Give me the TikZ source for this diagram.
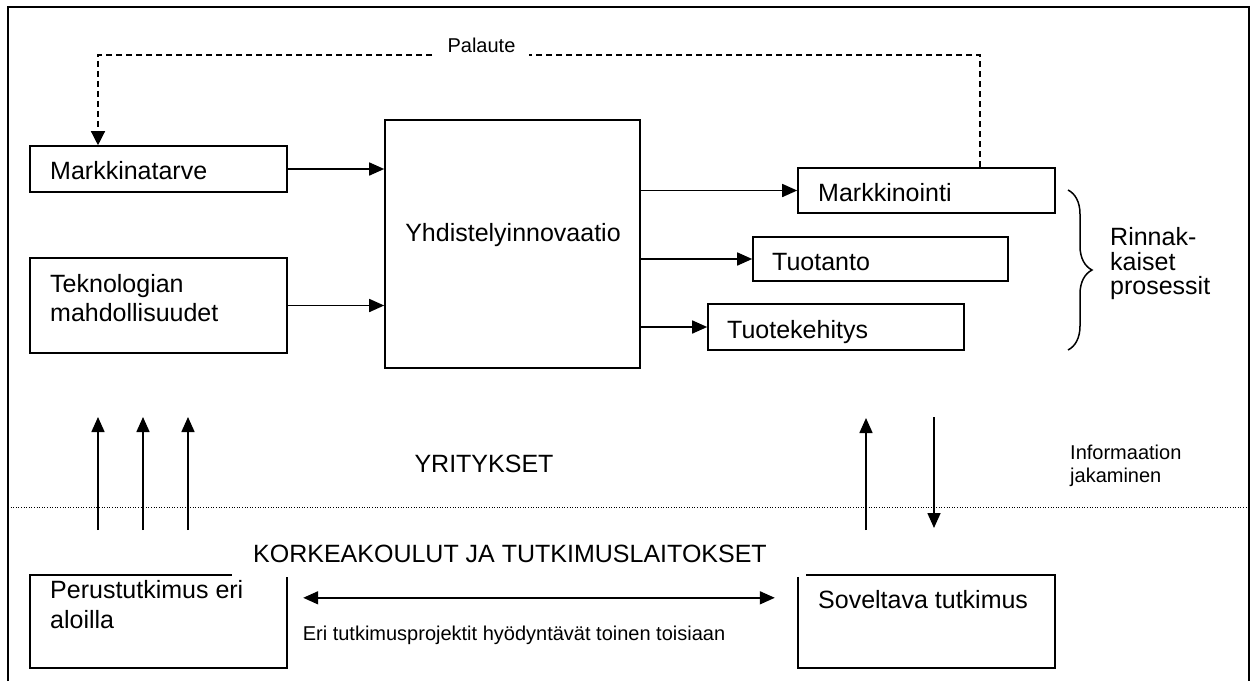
\documentclass[tikz,border=0pt]{standalone}
\usepackage{fontspec}
\setmainfont{Liberation Sans}
\usetikzlibrary{arrows.meta,decorations.pathreplacing,calc}

\begin{document}
\begin{tikzpicture}[x=1pt,y=-1pt,
  box/.style={draw, line width=1.6pt, inner sep=0pt},
  blank/.style={inner sep=0pt},
  big/.style={font=\fontsize{25}{29}\selectfont, inner sep=0pt},
  small/.style={font=\fontsize{20}{23}\selectfont, inner sep=0pt},
  tip/.tip={Triangle[length=15pt,width=13pt]},
  arr/.style={line width=1.6pt, -tip},
  darr/.style={line width=1.6pt, tip-tip},
  fb/.style={line width=1.3pt, dash pattern=on 6pt off 4pt},
  frame/.style={line width=2pt},
  sep/.style={line width=1pt, dash pattern=on 1pt off 1.6pt},
  edge/.style={line width=1.6pt}]

\useasboundingbox (0,0) rectangle (1256,681);

% outer frame (open at the bottom)
\draw[frame] (8,681) -- (8,7) -- (1249,7) -- (1249,681);

% companies: boxes
\node[box, minimum width=257pt, minimum height=46pt]  (mt) at (158.5,169) {};
\node[box, minimum width=257pt, minimum height=95pt]  (tk) at (158.5,305.5) {};
\node[box, minimum width=255pt, minimum height=248pt] (yh) at (512.5,244) {};
\node[box, minimum width=257pt, minimum height=45pt]  (mk) at (926.5,190.5) {};
\node[box, minimum width=255pt, minimum height=44pt]  (tu) at (880.5,259) {};
\node[box, minimum width=256pt, minimum height=46pt]  (te) at (836,327) {};

% companies: texts
\node[big, anchor=base west] (mtt) at (50,179) {Markkinatarve};
\node[big, anchor=base west] (tkt1) at (50,292) {Teknologian};
\node[big, anchor=base west] (tkt2) at (50,321) {mahdollisuudet};
\node[big, anchor=base] (yht) at (513,241) {Yhdistelyinnovaatio};
\node[big, anchor=base west] (mkt) at (818,201) {Markkinointi};
\node[big, anchor=base west] (tut) at (772,270) {Tuotanto};
\node[big, anchor=base west] (tet) at (727,338) {Tuotekehitys};

% parallel processes
\draw[line width=1.5pt, decorate, decoration={brace, amplitude=24pt}] (1068,190) -- (1068,350);
\node[big, anchor=base west] (rp1) at (1110,245) {Rinnak-};
\node[big, anchor=base west] (rp2) at (1110,270) {kaiset};
\node[big, anchor=base west] (rp3) at (1110,294) {prosessit};

% flows into and out of the combination box
\draw[arr] (mt.east) -- (mt.east -| yh.west);
\draw[arr] (tk.east) -- (tk.east -| yh.west);
\draw[arr] (mk.west -| yh.east) -- (mk.west);
\draw[arr] (tu.west -| yh.east) -- (tu.west);
\draw[arr] (te.west -| yh.east) -- (te.west);

% feedback loop
\coordinate (fbr) at (980,55);
\coordinate (fbl) at (98,55);
\draw[fb, -{Triangle[length=14pt,width=14pt]}] (mk.north -| fbr) -- (fbr) -- (fbl) -- (fbl |- mt.north);
\node[small, fill=white, inner xsep=14pt, inner ysep=4pt] (pal) at (481.5,45) {Palaute};

% sector labels and divider
\node[big, anchor=base] (yr) at (484,472) {YRITYKSET};
\draw[sep] (8,507) -- (1249,507);
\node[big, anchor=base west] (kk) at (253,562) {KORKEAKOULUT JA TUTKIMUSLAITOKSET};

% information exchange arrows
\coordinate (u1b) at (98,530);  \coordinate (u1t) at (98,417);
\coordinate (u2b) at (143,530); \coordinate (u2t) at (143,417);
\coordinate (u3b) at (188,530); \coordinate (u3t) at (188,417);
\coordinate (u4b) at (866,530); \coordinate (u4t) at (866,418);
\coordinate (d1t) at (934,417); \coordinate (d1b) at (934,528);
\draw[arr] (u1b) -- (u1t);
\draw[arr] (u2b) -- (u2t);
\draw[arr] (u3b) -- (u3t);
\draw[arr] (u4b) -- (u4t);
\draw[arr] (d1t) -- (d1b);
\node[small, anchor=base west] (inf1) at (1070,459) {Informaation};
\node[small, anchor=base west] (inf2) at (1070,482) {jakaminen};

% research boxes
\node[blank, minimum width=257pt, minimum height=93pt] (pt) at (158.5,621.5) {};
\draw[edge] ([xshift=202pt]pt.north west) -- (pt.north west) -- (pt.south west)
  -- (pt.south east) -- ([yshift=-2pt]pt.north east);
\node[blank, minimum width=257pt, minimum height=93pt] (sv) at (926.5,621.5) {};
\draw[edge] ([yshift=-2pt]sv.north west) -- (sv.south west) -- (sv.south east)
  -- (sv.north east) -- ([xshift=8pt]sv.north west);

\node[big, anchor=base west] (ptt1) at (50,598) {Perustutkimus eri};
\node[big, anchor=base west] (ptt2) at (50,628) {aloilla};
\node[big, anchor=base west] (svt) at (818,608) {Soveltava tutkimus};

\draw[darr] ([xshift=16pt,yshift=-23pt]pt.north east) -- ([xshift=-23pt,yshift=-23pt]sv.north west);
\node[small, anchor=base] (cap) at (514,640) {Eri tutkimusprojektit hyödyntävät toinen toisiaan};

\end{tikzpicture}
\end{document}
